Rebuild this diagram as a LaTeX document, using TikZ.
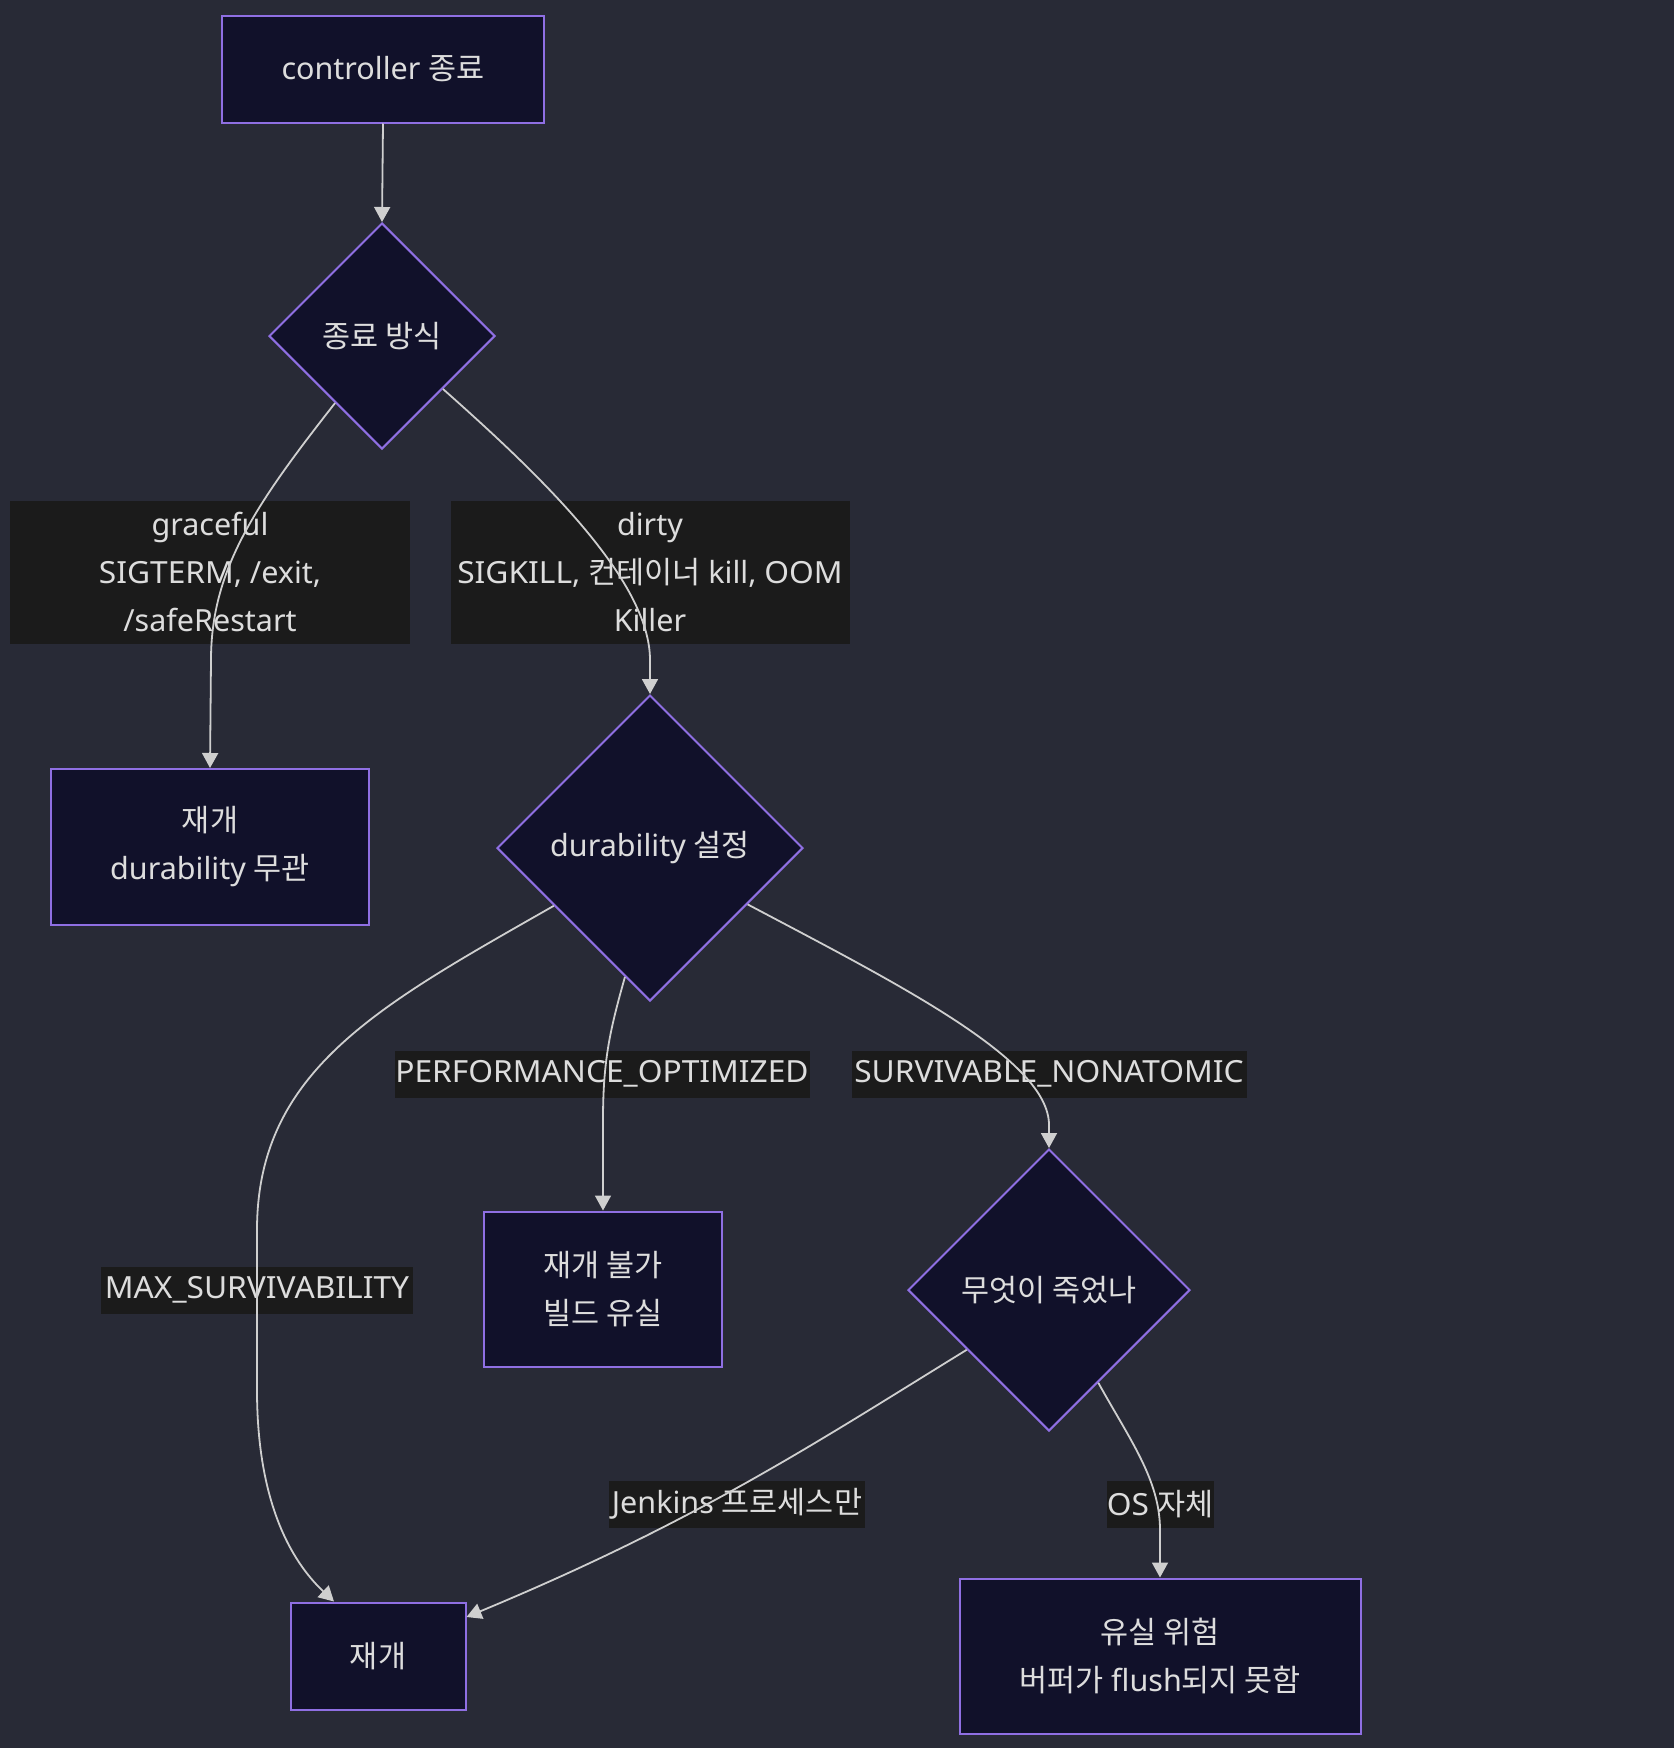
\documentclass[tikz,border=0pt]{standalone}
\usepackage{fontspec}
\setmainfont{Noto Sans}
\newfontfamily\kofont{Noto Sans CJK KR}
\newfontfamily\capfont{Noto Sans}[FakeStretch=1.04]
\newcommand\ko[1]{{\kofont\fontsize{30.5}{48}\selectfont #1}}
\newcommand\cp[1]{{\capfont #1}}
\usetikzlibrary{shapes.geometric,arrows.meta}
\definecolor{bg}{HTML}{282A36}
\definecolor{nodefill}{HTML}{11112A}
\definecolor{nodeline}{HTML}{8F6FE3}
\definecolor{lblfill}{HTML}{1B1B1B}
\definecolor{txt}{HTML}{DDDDDD}
\definecolor{edgec}{HTML}{CFCFCF}
\begin{document}
\begin{tikzpicture}[x=1pt,y=-1pt,
  every node/.style={font=\fontsize{30.5}{48}\selectfont, text=txt, align=center},
  box/.style={draw=nodeline, line width=2pt, fill=nodefill, rectangle, inner sep=0pt},
  dia/.style={draw=nodeline, line width=2pt, fill=nodefill, diamond, aspect=1, inner sep=0pt},
  lbl/.style={fill=lblfill, inner sep=0pt},
  edge/.style={draw=edgec, line width=1.8pt, -{Triangle[width=16pt,length=15pt]}}
]
\fill[bg] (0,0) rectangle (1674,1748);
\useasboundingbox (0,0) rectangle (1674,1748);

\node[box, minimum width=322pt, minimum height=107pt] (A) at (383,69) {controller \ko{종료}};
\node[dia, minimum width=226pt, minimum height=226pt] (B) at (382,336) {\ko{종료 방식}};
\node[box, minimum width=318pt, minimum height=156pt] (C) at (210,847) {\ko{재개}\\durability \ko{무관}};
\node[dia, minimum width=306pt, minimum height=306pt] (D) at (650,848) {durability \ko{설정}};
\node[box, minimum width=238pt, minimum height=155pt] (E) at (603,1289) {\ko{재개 불가}\\\ko{빌드 유실}};
\node[dia, minimum width=282pt, minimum height=282pt] (F) at (1049,1290) {\ko{무엇이 죽었나}};
\node[box, minimum width=175pt, minimum height=107pt] (G) at (378,1656) {\ko{재개}};
\node[box, minimum width=401pt, minimum height=155pt] (H) at (1160,1656) {\ko{유실 위험}\\\ko{버퍼가} flush\ko{되지 못함}};

\node[lbl, minimum width=400pt, minimum height=143pt] (L1) at (210,572) {graceful\\\cp{SIGTERM}, /exit,\\/safeRestart};
\node[lbl, minimum width=399pt, minimum height=143pt] (L2) at (650,572) {dirty\\\cp{SIGKILL}, \ko{컨테이너} kill, \cp{OOM}\\Killer};
\node[lbl, minimum width=415pt, minimum height=47pt] (L3) at (602,1074) {\cp{PERFORMANCE\_OPTIMIZED}};
\node[lbl, minimum width=395pt, minimum height=47pt] (L4) at (1049,1074) {\cp{SURVIVABLE\_NONATOMIC}};
\node[lbl, minimum width=312pt, minimum height=47pt] (L5) at (257,1290) {\cp{MAX\_SURVIVABILITY}};
\node[lbl, minimum width=256pt, minimum height=47pt] (L6) at (737,1504) {Jenkins \ko{프로세스만}};
\node[lbl, minimum width=107pt, minimum height=47pt] (L7) at (1160,1504) {\cp{OS} \ko{자체}};

\draw[edge] (A.south) -- (B.north);
\draw[edge] (B.-125) .. controls (255,505) and (211,570) .. (211,660) -- (C.north);
\draw[edge] (B.-41.6) .. controls (540,475) and (650,580) .. (650,660) -- (D.north);
\draw[edge] (D.-149) .. controls (380,1005) and (257,1070) .. (257,1230) -- (257,1390) .. controls (257,1500) and (290,1560) .. ([xshift=-44pt]G.north);
\draw[edge] (D.-101.6) .. controls (610,1030) and (603,1060) .. (603,1120) -- (E.north);
\draw[edge] (D.-30.4) .. controls (900,985) and (1049,1060) .. (1049,1125) -- (F.north);
\draw[edge] (F.-144) .. controls (820,1440) and (700,1520) .. ([yshift=39pt]G.east);
\draw[edge] (F.-62.5) .. controls (1130,1440) and (1160,1480) .. (1160,1530) -- (H.north);
\end{tikzpicture}
\end{document}
